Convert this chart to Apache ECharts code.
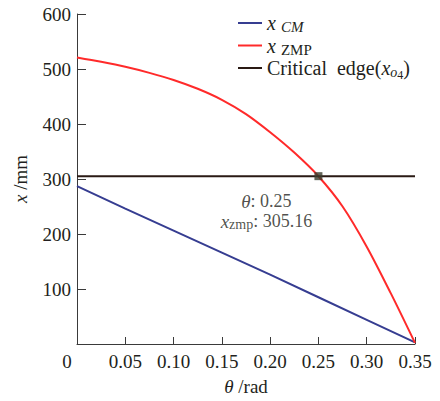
<!DOCTYPE html>
<html>
<head>
<meta charset="utf-8">
<script src="https://cdn.jsdelivr.net/npm/echarts@6/dist/echarts.min.js"></script>
<style>
html,body{margin:0;padding:0;background:#fff;}
#chart{width:440px;height:401px;}
</style>
</head>
<body>
<div id="chart"></div>
<script>
// Data
var thetaZmp = [0, 0.025, 0.05, 0.075, 0.1, 0.125, 0.15, 0.175, 0.2, 0.225, 0.25, 0.275, 0.3, 0.325, 0.35];
var xZmp = [521, 513, 504, 493, 480, 464, 444, 418, 385, 348, 305, 250, 177, 92, 2];
var thetaCm = [0, 0.05, 0.10, 0.15, 0.20, 0.25, 0.30, 0.35];
var xCm = [287, 246, 206, 166, 126, 85, 44, 3];
var criticalTheta = [0, 0.35];
var criticalX = [305.16, 305.16];
var crossPoint = [0.25, 305.16];
var xTicks = [0, 0.05, 0.10, 0.15, 0.20, 0.25, 0.30, 0.35];
var yTicks = [0, 100, 200, 300, 400, 500, 600];

function pairs(xs, ys){ return xs.map(function(v,i){ return [v, ys[i]]; }); }

var SERIF = 'Liberation Serif';
var txt = '#231f20';
var chart = echarts.init(document.getElementById('chart'), null, {renderer:'svg'});
chart.setOption({
  animation: false,
  backgroundColor: '#fff',
  textStyle: {fontFamily: SERIF},
  grid: {left: 77, right: 25, top: 14, bottom: 55, containLabel: false},
  legend: {
    data: ['xCM', 'xZMP', 'crit'],
    orient: 'vertical',
    left: 233, top: 8,
    itemWidth: 24, itemHeight: 2, itemGap: 1,
    icon: 'rect',
    textStyle: {
      fontFamily: SERIF, fontSize: 20, color: txt,
      rich: {
        i: {fontFamily: SERIF, fontStyle: 'italic', fontSize: 20, color: txt},
        si: {fontFamily: SERIF, fontStyle: 'italic', fontSize: 15, color: txt, padding: [8,0,0,0]},
        s: {fontFamily: SERIF, fontSize: 15, color: txt, padding: [8,0,0,0]},
        ss: {fontFamily: SERIF, fontStyle: 'italic', fontSize: 14, color: txt, padding: [8,0,0,0]},
        sss: {fontFamily: SERIF, fontSize: 12, color: txt, padding: [14,0,0,0]},
        t: {fontFamily: SERIF, fontSize: 20, color: txt}
      }
    },
    formatter: function(n){
      if (n === 'xCM') return '{i|x} {si|CM}';
      if (n === 'xZMP') return '{i|x} {s|ZMP}';
      return '{t|Critical  edge(}{i|x}{ss|o}{sss|4}{t|)}';
    }
  },
  xAxis: {
    type: 'value', min: 0, max: 0.35, interval: 0.05,
    name: '{i|θ} /rad', nameLocation: 'middle', nameGap: 33,
    nameTextStyle: {fontFamily: SERIF, fontSize: 19, color: txt,
      rich: {i: {fontFamily: SERIF, fontStyle: 'italic', fontSize: 19, color: txt}}},
    axisLine: {show: true, lineStyle: {color: '#3a3a3a', width: 1}},
    axisTick: {show: true, inside: true, length: 7, lineStyle: {color: '#3a3a3a'}},
    splitLine: {show: false},
    axisLabel: {
      fontFamily: SERIF, fontSize: 19, color: txt, margin: 8,
      formatter: function(v){
        if (v === 0) return '{z|0}';
        return v.toFixed(2);
      },
      rich: {z: {fontFamily: SERIF, fontSize: 19, color: txt, padding: [0,20,0,0]}}
    }
  },
  yAxis: {
    type: 'value', min: 0, max: 600, interval: 100,
    name: '{i|x} /mm', nameLocation: 'middle', nameGap: 47, nameRotate: 90,
    nameTextStyle: {fontFamily: SERIF, fontSize: 19, color: txt,
      rich: {i: {fontFamily: SERIF, fontStyle: 'italic', fontSize: 19, color: txt}}},
    axisLine: {show: true, lineStyle: {color: '#3a3a3a', width: 1}},
    axisTick: {show: true, inside: true, length: 9, lineStyle: {color: '#3a3a3a'}},
    splitLine: {show: false},
    axisLabel: {
      fontFamily: SERIF, fontSize: 19, color: txt, margin: 6,
      formatter: function(v){ return v === 0 ? '' : String(v); }
    }
  },
  series: [
    {name: 'xCM', type: 'line', data: pairs(thetaCm, xCm), showSymbol: false,
     lineStyle: {color: '#363d91', width: 2}, itemStyle: {color: '#363d91'}},
    {name: 'xZMP', type: 'line', data: pairs(thetaZmp, xZmp), showSymbol: false, smooth: 0.3,
     lineStyle: {color: '#ff2a2a', width: 2}, itemStyle: {color: '#ff2a2a'}},
    {name: 'crit', type: 'line', data: pairs(criticalTheta, criticalX), showSymbol: false,
     lineStyle: {color: '#2a1a14', width: 2}, itemStyle: {color: '#2a1a14'}},
    {name: 'point', type: 'scatter', data: [crossPoint], symbol: 'rect', symbolSize: 8,
     itemStyle: {color: '#3b3d2e'}, z: 5,
     label: {
       show: true, position: 'bottom', offset: [-52, 6], align: 'center',
       fontFamily: SERIF, fontSize: 18, color: txt, lineHeight: 20,
       formatter: function(p){
         return '{i|θ}{t|: ' + p.value[0].toFixed(2) + '}\n{i|x}{s|zmp}{t|: ' + p.value[1].toFixed(2) + '}';
       },
       rich: {
         i: {fontFamily: SERIF, fontStyle: 'italic', fontSize: 19, color: txt, lineHeight: 20},
         t: {fontFamily: SERIF, fontSize: 18, color: txt, lineHeight: 20},
         s: {fontFamily: SERIF, fontSize: 14, color: txt, padding: [6,0,0,0], lineHeight: 20}
       }
     }}
  ]
});
</script>
</body>
</html>
